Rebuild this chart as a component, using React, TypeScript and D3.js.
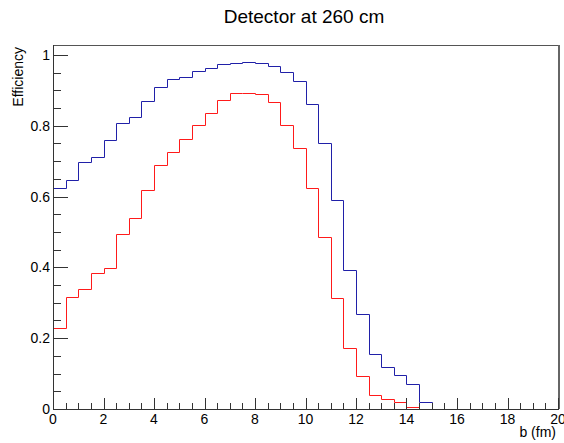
import React from "react";
import * as d3 from "d3";

const title = "Detector at 260 cm";
const xTitle = "b (fm)";
const yTitle = "Efficiency";
const binWidth = 0.5;
const blueValues = [
  0.623, 0.647, 0.697, 0.713, 0.76, 0.809, 0.826, 0.871, 0.91, 0.932,
  0.937, 0.955, 0.964, 0.975, 0.977, 0.979, 0.977, 0.969, 0.953, 0.927,
  0.861, 0.752, 0.59, 0.393, 0.269, 0.154, 0.118, 0.097, 0.07, 0.021,
  0, 0, 0, 0, 0, 0, 0, 0, 0, 0,
];
const redValues = [
  0.229, 0.315, 0.34, 0.385, 0.397, 0.494, 0.54, 0.618, 0.69, 0.727,
  0.763, 0.803, 0.836, 0.874, 0.893, 0.893, 0.89, 0.868, 0.801, 0.737,
  0.625, 0.485, 0.313, 0.173, 0.093, 0.04, 0.027, 0.019, 0.007, 0,
  0, 0, 0, 0, 0, 0, 0, 0, 0, 0,
];
const xMajorTicks = [0, 2, 4, 6, 8, 10, 12, 14, 16, 18, 20];
const yMajorTicks = [0, 0.2, 0.4, 0.6, 0.8, 1];
const yTickLabels = ["0", "0.2", "0.4", "0.6", "0.8", "1"];

const W = 564;
const H = 443;
const L = 53;
const R = 558;
const T = 45;
const B = 409;
const FONT = "'Liberation Sans', Arial, Helvetica, sans-serif";

export default function App() {
  const x = d3.scaleLinear().domain([0, 20]).range([L, R]);
  const y = d3.scaleLinear().domain([0, 1.028]).range([B, T]);

  const stepPath = (vals: number[]) => {
    const pts: [number, number][] = vals.map((v, i) => [i * binWidth, v]);
    pts.push([vals.length * binWidth, vals[vals.length - 1]]);
    const line = d3
      .line<[number, number]>()
      .x((d) => Math.round(x(d[0])) + 0.5)
      .y((d) => Math.round(y(d[1])) + 0.5)
      .curve(d3.curveStepAfter);
    return line(pts) || "";
  };

  const xMinor = d3.range(0, 20.001, 0.5).filter((v) => Math.abs(v / 2 - Math.round(v / 2)) > 1e-6);
  const yMinor = d3.range(0, 1.0001, 0.05).filter((v) => Math.abs(v / 0.2 - Math.round(v / 0.2)) > 1e-6);

  const px = (v: number) => Math.round(x(v)) + 0.5;
  const py = (v: number) => Math.round(y(v)) + 0.5;

  return (
    <svg
      width={W}
      height={H}
      style={{ position: "absolute", left: 0, top: 0, background: "#fff" }}
      fontFamily={FONT}
    >
      <rect x={0} y={0} width={W} height={H} fill="#fff" />
      <text x={304} y={23} textAnchor="middle" fontSize={19} fill="#000">
        {title}
      </text>
      {/* frame */}
      <line x1={L} x2={R + 1} y1={T + 0.5} y2={T + 0.5} stroke="#555" strokeWidth={1} />
      <line x1={R + 1} x2={R + 1} y1={T} y2={B} stroke="#666" strokeWidth={2} />
      {/* histograms */}
      <path d={stepPath(blueValues)} fill="none" stroke="#2020a8" strokeWidth={1} />
      <path d={stepPath(redValues)} fill="none" stroke="#ff1a1a" strokeWidth={1} />
      {/* axes */}
      <line x1={L + 0.5} x2={L + 0.5} y1={T} y2={B + 1} stroke="#333" />
      <line x1={L} x2={R + 1} y1={B + 0.5} y2={B + 0.5} stroke="#333" />
      {xMajorTicks.map((t) => (
        <g key={"xM" + t}>
          <line x1={px(t)} x2={px(t)} y1={B} y2={B - 11} stroke="#333" />
          <text x={x(t)} y={424} textAnchor="middle" fontSize={14} fill="#000">
            {String(t)}
          </text>
        </g>
      ))}
      {xMinor.map((t) => (
        <line key={"xm" + t} x1={px(t)} x2={px(t)} y1={B} y2={B - 6} stroke="#333" />
      ))}
      {yMajorTicks.map((t, i) => (
        <g key={"yM" + t}>
          <line x1={L} x2={L + 15} y1={py(t)} y2={py(t)} stroke="#333" />
          <text x={50} y={y(t) + 5} textAnchor="end" fontSize={14} fill="#000">
            {yTickLabels[i]}
          </text>
        </g>
      ))}
      {yMinor.map((t) => (
        <line key={"ym" + t} x1={L} x2={L + 8} y1={py(t)} y2={py(t)} stroke="#333" />
      ))}
      <text x={556} y={437} textAnchor="end" fontSize={14} fill="#000">
        {xTitle}
      </text>
      <text
        transform={`translate(23, 47) rotate(-90)`}
        textAnchor="end"
        fontSize={14}
        fill="#000"
      >
        {yTitle}
      </text>
    </svg>
  );
}
